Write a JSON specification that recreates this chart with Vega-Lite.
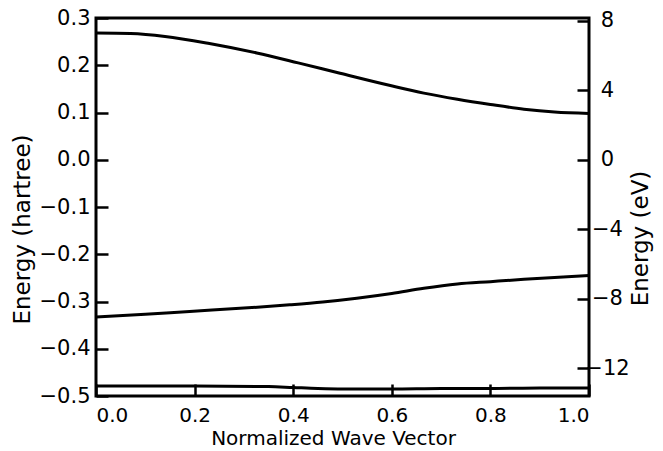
{
  "$schema": "https://vega.github.io/schema/vega-lite/v6.json",
  "width": 493,
  "height": 378,
  "autosize": {"type": "none"},
  "padding": {"left": 96, "top": 18, "right": 74, "bottom": 55},
  "background": "white",
  "config": {
    "view": {"stroke": "black", "strokeWidth": 3},
    "font": "DejaVu Sans",
    "axis": {
      "domain": false,
      "grid": false,
      "tickColor": "black",
      "tickWidth": 2.5,
      "tickSize": -12,
      "labelFont": "DejaVu Sans",
      "labelFontSize": 21,
      "labelColor": "black",
      "titleFont": "DejaVu Sans",
      "titleFontSize": 23,
      "titleFontWeight": "normal",
      "titleColor": "black"
    }
  },
  "layer": [
    {
      "data": {
        "values": [
          {"band": "upper", "k": 0.0, "E": 0.268},
          {"band": "upper", "k": 0.07, "E": 0.267},
          {"band": "upper", "k": 0.14, "E": 0.261},
          {"band": "upper", "k": 0.23, "E": 0.246},
          {"band": "upper", "k": 0.326, "E": 0.226},
          {"band": "upper", "k": 0.41, "E": 0.205},
          {"band": "upper", "k": 0.495, "E": 0.183},
          {"band": "upper", "k": 0.597, "E": 0.157},
          {"band": "upper", "k": 0.665, "E": 0.141},
          {"band": "upper", "k": 0.733, "E": 0.128},
          {"band": "upper", "k": 0.8, "E": 0.117},
          {"band": "upper", "k": 0.868, "E": 0.107},
          {"band": "upper", "k": 0.93, "E": 0.101},
          {"band": "upper", "k": 1.0, "E": 0.098},
          {"band": "middle", "k": 0.0, "E": -0.333},
          {"band": "middle", "k": 0.1, "E": -0.327},
          {"band": "middle", "k": 0.19, "E": -0.321},
          {"band": "middle", "k": 0.3, "E": -0.314},
          {"band": "middle", "k": 0.393, "E": -0.307},
          {"band": "middle", "k": 0.46, "E": -0.301},
          {"band": "middle", "k": 0.529, "E": -0.293},
          {"band": "middle", "k": 0.6, "E": -0.283},
          {"band": "middle", "k": 0.665, "E": -0.272},
          {"band": "middle", "k": 0.733, "E": -0.263},
          {"band": "middle", "k": 0.8, "E": -0.258},
          {"band": "middle", "k": 0.868, "E": -0.253},
          {"band": "middle", "k": 0.93, "E": -0.249},
          {"band": "middle", "k": 1.0, "E": -0.245},
          {"band": "lower", "k": 0.0, "E": -0.479},
          {"band": "lower", "k": 0.2, "E": -0.479},
          {"band": "lower", "k": 0.35, "E": -0.48},
          {"band": "lower", "k": 0.4, "E": -0.482},
          {"band": "lower", "k": 0.45, "E": -0.484},
          {"band": "lower", "k": 0.5, "E": -0.485},
          {"band": "lower", "k": 0.6, "E": -0.485},
          {"band": "lower", "k": 0.7, "E": -0.484},
          {"band": "lower", "k": 0.8, "E": -0.484},
          {"band": "lower", "k": 0.9, "E": -0.483},
          {"band": "lower", "k": 1.0, "E": -0.483}
        ]
      },
      "mark": {"type": "line", "color": "black", "strokeWidth": 3, "interpolate": "monotone", "clip": true},
      "encoding": {
        "x": {
          "field": "k",
          "type": "quantitative",
          "scale": {"domain": [0, 1], "nice": false},
          "axis": {
            "values": [0, 0.2, 0.4, 0.6, 0.8, 1.0],
            "format": ".1f",
            "labelFlush": true,
            "labelFontSize": 20,
            "labelPadding": 21,
            "title": "Normalized Wave Vector",
            "titleFontSize": 20,
            "titleX": 237,
            "titleY": 32,
            "titleAlign": "center",
            "titleBaseline": "top"
          }
        },
        "y": {
          "field": "E",
          "type": "quantitative",
          "scale": {"domain": [-0.5, 0.3], "nice": false},
          "axis": {
            "values": [-0.5, -0.4, -0.3, -0.2, -0.1, 0.0, 0.1, 0.2, 0.3],
            "format": ".1f",
            "labelPadding": 18,
            "title": "Energy  (hartree)",
            "titleAngle": 270,
            "titleX": -85,
            "titleY": 211,
            "titleAlign": "center",
            "titleBaseline": "top"
          }
        },
        "detail": {"field": "band"}
      }
    },
    {
      "data": {"values": [{"eV": -13.6057}, {"eV": 8.1634}]},
      "mark": {"type": "point", "opacity": 0},
      "encoding": {
        "y": {
          "field": "eV",
          "type": "quantitative",
          "scale": {"domain": [-13.6057, 8.1634], "nice": false, "zero": false},
          "axis": {
            "orient": "right",
            "values": [8, 4, 0, -4, -8, -12],
            "format": "d",
            "labelAlign": "center",
            "labelPadding": 30,
            "title": "Energy (eV)",
            "titleAngle": 270,
            "titleX": 40,
            "titleY": 220,
            "titleAlign": "center",
            "titleBaseline": "top"
          }
        }
      }
    }
  ],
  "resolve": {"scale": {"y": "independent"}}
}
